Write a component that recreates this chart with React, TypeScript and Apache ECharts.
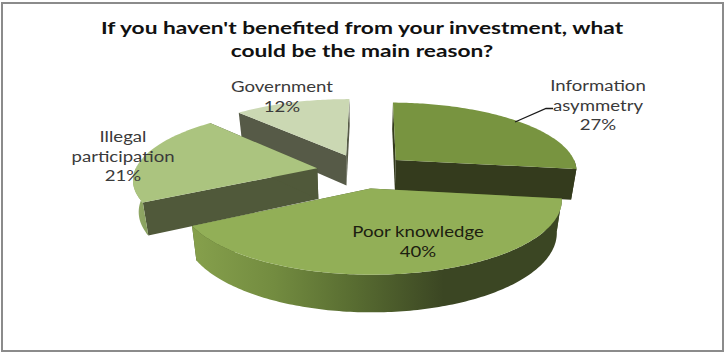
import React, { useEffect, useRef } from "react";
import * as echarts from "echarts";

const titleLines = ["If you haven't benefited from your investment, what", "could be the main reason?"];
const categories = ["Information\nasymmetry", "Poor knowledge", "Illegal\nparticipation", "Government"];
const shares = [27, 40, 21, 12];

const topColors = ["#789440", "#92AF57", "#ABC47F", "#CBD8B3"];
const cutColors = ["#343B1D", "#465428", "#50593A", "#565A47"];
const rimStops: [number, string][][] = [
  [[0, "#343B1D"], [1, "#343B1D"]],
  [[0, "#86A04C"], [0.22, "#738C40"], [0.44, "#586C31"], [0.68, "#3B4623"], [1, "#3B4623"]],
  [[0, "#93AB68"], [1, "#88A05E"]],
  [[0, "#B7C4A0"], [1, "#B7C4A0"]],
];
const labelSpots = [
  { x: 598, y: 105, color: "#3a3a3a" },
  { x: 418, y: 241, color: "#1c2010" },
  { x: 123, y: 156, color: "#3a3a3a" },
  { x: 282, y: 96, color: "#3a3a3a" },
];

// Pie projection: a tilted disc seen with mild perspective
const CX = 362, CY = 171, RX = 182.5, RY = 68.5, PERSPECTIVE = 0.142;
const THICK = 31, FOOT_SCALE = 0.975, EXPLODE = 0.25, START_DEG = 0.5;

function project(wx: number, wy: number, lower: boolean): number[] {
  const p = 1 / (1 - PERSPECTIVE * wy);
  const x = CX + RX * wx * p;
  const y = CY + RY * wy * p;
  return lower ? [CX + (x - CX) * FOOT_SCALE, y + THICK * p] : [x, y];
}

const total = shares.reduce((a, b) => a + b, 0);
const starts = shares.map((_, i) => shares.slice(0, i).reduce((a, b) => a + b, 0));

function renderSlice(params: any, api: any) {
  const i = params.dataIndex;
  const from = START_DEG + (api.value(0) / total) * 360;
  const sweep = (api.value(1) / total) * 360;
  const mid = ((from + sweep / 2) * Math.PI) / 180;
  const ox = EXPLODE * Math.sin(mid);
  const oy = -EXPLODE * Math.cos(mid);
  const rank = Math.round((oy / EXPLODE + 1) * 10) * 10;

  const arc = (a0: number, a1: number, lower: boolean) => {
    const pts: number[][] = [];
    const steps = Math.max(1, Math.ceil(a1 - a0));
    for (let d = 0; d <= steps; d++) {
      const a = ((a0 + ((a1 - a0) * d) / steps) * Math.PI) / 180;
      pts.push(project(ox + Math.sin(a), oy - Math.cos(a), lower));
    }
    return pts;
  };
  const to = from + sweep;
  const topRim = arc(from, to, false);
  const footRim = arc(from, to, true);
  const apexTop = project(ox, oy, false);
  const apexFoot = project(ox, oy, true);
  const poly = (points: number[][], fill: any, z2: number) => ({
    type: "polygon",
    z2,
    shape: { points },
    style: { fill },
  });
  const last = topRim.length - 1;
  const children: any[] = [
    poly([apexTop, topRim[0], footRim[0], apexFoot], cutColors[i], rank),
    poly([apexTop, topRim[last], footRim[last], apexFoot], cutColors[i], rank),
  ];

  // Only the part of the outer wall that faces the viewer is drawn
  const faceFrom = Math.max(from, 90);
  const faceTo = Math.min(to, 270);
  if (faceTo > faceFrom) {
    children.push(
      poly(
        arc(faceFrom, faceTo, false).concat(arc(faceFrom, faceTo, true).reverse()),
        new echarts.graphic.LinearGradient(0, 0, 1, 0, rimStops[i].map(([offset, color]) => ({ offset, color }))),
        rank + 1,
      ),
    );
  }
  children.push(poly([apexTop, ...topRim], topColors[i], rank + 2));
  children.push({
    type: "text",
    z2: 1000,
    x: labelSpots[i].x,
    y: labelSpots[i].y,
    scaleX: 1.24,
    style: {
      text: `${categories[i]}\n${api.value(1)}%`,
      font: "15px Lato",
      lineHeight: 19.5,
      fill: labelSpots[i].color,
      align: "center",
      verticalAlign: "middle",
    },
  });
  return { type: "group", children };
}

export default function App() {
  const ref = useRef<HTMLDivElement>(null);
  useEffect(() => {
    const chart = echarts.init(ref.current!, undefined, { renderer: "svg" });
    chart.setOption({
      animation: false,
      backgroundColor: "#ffffff",
      graphic: [
        {
          type: "rect",
          z: 0,
          shape: { x: 2, y: 3, width: 721, height: 348 },
          style: { fill: "#ffffff", stroke: "#8b8b8b", lineWidth: 2 },
        },
        ...titleLines.map((line, i) => ({
          type: "text",
          z: 10,
          x: 362,
          y: 27 + i * 23,
          scaleX: 1.3,
          style: {
            text: line,
            font: "bold 17.5px Lato",
            fill: "#111111",
            align: "center",
            verticalAlign: "middle",
          },
        })),
        {
          type: "polyline",
          z: 10,
          shape: { points: [[515, 122], [546, 108.5], [553, 108.5]] },
          style: { stroke: "#1a1a1a", lineWidth: 1.3, fill: "none" },
        },
      ],
      series: [
        {
          type: "custom",
          coordinateSystem: "none",
          renderItem: renderSlice,
          z: 5,
          data: shares.map((value, i) => [starts[i], value]),
        },
      ],
    });
    return () => chart.dispose();
  }, []);
  return <div ref={ref} style={{ position: "fixed", left: 0, top: 0, width: 724, height: 352 }} />;
}
